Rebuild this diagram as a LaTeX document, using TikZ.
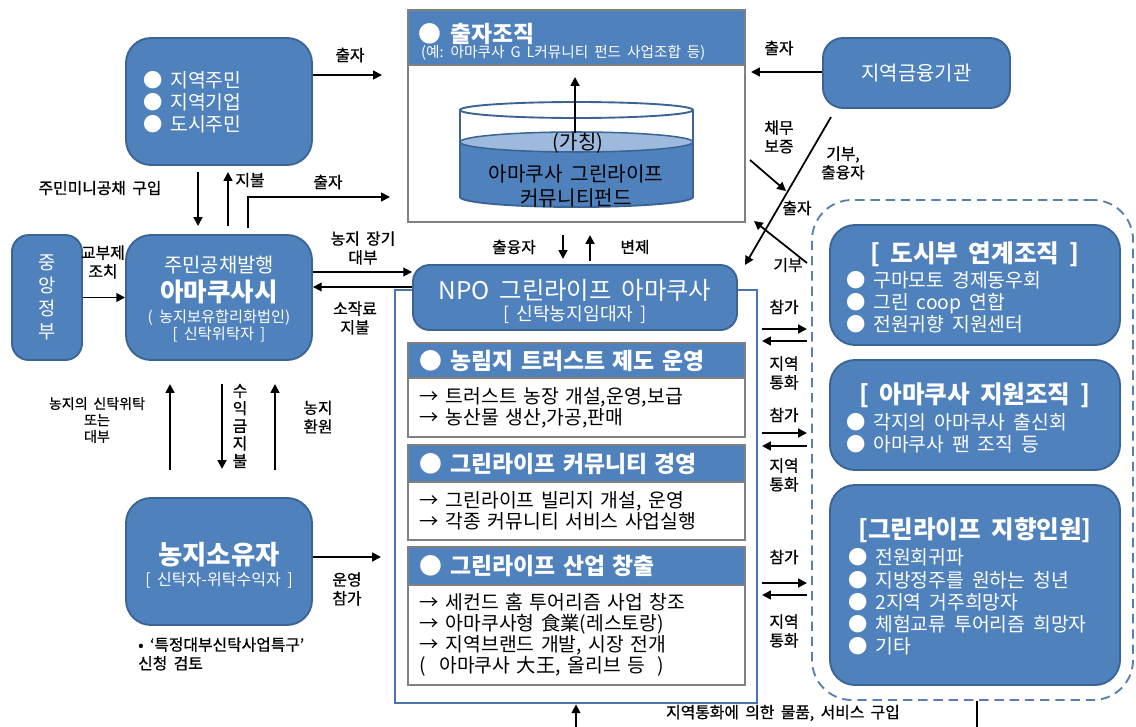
\documentclass[tikz,border=0pt]{standalone}
\usepackage{fontspec}
\setmainfont{Noto Sans CJK KR}[WordSpace=1.8]
\newfontfamily\lblfont{Noto Sans CJK KR}[WordSpace=1.8,FakeBold=0.8]
\usetikzlibrary{arrows.meta}
\definecolor{boxblue}{HTML}{4F81BD}
\definecolor{boxedge}{HTML}{3B6495}
\definecolor{liquid}{HTML}{9DB9DC}
\definecolor{frameblue}{HTML}{4A74AA}
\definecolor{dashblue}{HTML}{5B7FAD}
\begin{document}
\begin{tikzpicture}[x=0.03cm,y=-0.03cm,
    >={Triangle[length=7.5pt,width=7.5pt]},
    flow/.style={->,line width=1.5pt},
    bluebox/.style={draw=boxedge,line width=1.6pt,fill=boxblue,rounded corners=0.75cm,
      text=white,align=center,inner sep=0pt},
    wtxt/.style={text=white,inner sep=0pt},
    lbl/.style={font=\lblfont\fontsize{13.5}{16}\selectfont,align=center,inner sep=0pt},
    boxlist/.style={anchor=west,align=left,text=white,font=\fontsize{16.5}{19}\selectfont,inner sep=0pt},
    boxtitle/.style={text=white,font=\fontsize{21}{24}\selectfont\bfseries,inner sep=0pt},
    sechead/.style={draw=gray,line width=1.3pt,fill=boxblue,text=white,text width=9.39cm,
      inner xsep=0.36cm,inner ysep=0pt,align=left,font=\fontsize{19.5}{22}\selectfont\bfseries},
    secbody/.style={draw=gray,line width=1.3pt,fill=white,text width=9.39cm,
      inner xsep=0.36cm,inner ysep=0pt,align=left,font=\fontsize{16.5}{18}\selectfont}]
  \useasboundingbox (0,0) rectangle (1136,727);

  % left column
  \node[bluebox,minimum width=5.58cm,minimum height=3.81cm] (resid) at (219,101.5) {};
  \node[boxlist] (residtxt) at (143,102) {● 지역주민\\● 지역기업\\● 도시주민};
  \node[bluebox,minimum width=5.58cm,minimum height=3.75cm] (si) at (219,297.5) {};
  \node[wtxt,font=\fontsize{17}{19}\selectfont] (siissue) at (219,265) {주민공채발행};
  \node[wtxt,font=\fontsize{21.8}{26}\selectfont\bfseries] (siname) at (219,292) {아마쿠사시};
  \node[wtxt,font=\fontsize{13}{15}\selectfont] (silegal) at (219,318) {( 농지보유합리화법인)};
  \node[wtxt,font=\fontsize{13}{15}\selectfont] (sirole) at (219,334) {[ 신탁위탁자 ]};
  \node[bluebox,rounded corners=0.5cm,minimum width=2.1cm,minimum height=3.75cm,font=\fontsize{16}{19.5}\selectfont] (gov) at (47,297.5)
    {중\\앙\\정\\부};
  \node[bluebox,minimum width=5.58cm,minimum height=3.81cm] (owner) at (219,561.5) {};
  \node[wtxt,font=\fontsize{22.5}{26}\selectfont\bfseries] (ownername) at (219,555) {농지소유자};
  \node[wtxt,font=\fontsize{13.7}{16}\selectfont] (ownerrole) at (219,580) {[ 신탁자-위탁수익자 ]};
  \node[lbl,anchor=west,align=left] (note) at (138,654) {• ‘특정대부신탁사업특구’\\신청 검토};

  % fund
  \node[draw=gray,line width=1.3pt,fill=white,minimum width=10.11cm,minimum height=6.36cm,inner sep=0pt] (fund) at (576.5,116) {};
  \node[sechead,minimum height=1.65cm] (fundhead) at (576.5,37.5) {};
  \node[wtxt,anchor=west,font=\fontsize{19.5}{22}\selectfont\bfseries] (fundtitle) at (418,34) {● 출자조직};
  \node[wtxt,anchor=west,font=\fontsize{12.5}{14}\selectfont] (fundnote) at (421,52.5) {(예: 아마쿠사 G L커뮤니티 펀드 사업조합 등)};
  \fill[boxblue] (460,142) -- (460,197) arc[start angle=180,end angle=0,x radius=116.5,y radius=10] -- (693,142) -- cycle;
  \draw[boxedge,line width=1.6pt] (460,110) -- (460,197) arc[start angle=180,end angle=0,x radius=116.5,y radius=10] -- (693,110);
  \draw[boxedge,line width=1.3pt,fill=liquid] (576.5,142) ellipse [x radius=116.5,y radius=10];
  \draw[boxedge,line width=1.6pt,fill=white] (576.5,110) ellipse [x radius=116.5,y radius=8];
  \node[font=\fontsize{17}{18}\selectfont,inner sep=0pt] (tempname) at (578,143) {(가칭)};
  \node[font=\fontsize{17.2}{21}\selectfont,align=center,inner sep=0pt] (fundname) at (576,186) {아마쿠사 그린라이프\\커뮤니티펀드};
  \coordinate (raise) at (575,77);
  \draw[flow] (tempname.north -| raise) -- (raise);

  \node[bluebox,rounded corners=0.6cm,minimum width=5.61cm,minimum height=2.1cm,font=\fontsize{17}{19}\selectfont] (bank) at (916.5,73) {지역금융기관};

  % NPO
  \node[draw=frameblue,line width=2.4pt,fill=white,minimum width=10.86cm,minimum height=12.39cm,inner sep=0pt] (npo) at (576,496.5) {};
  \node[bluebox,rounded corners=0.5cm,minimum width=9.72cm,minimum height=1.95cm] (npohead) at (575,297.5) {};
  \node[wtxt,font=\fontsize{20.8}{24}\selectfont] (nponame) at (575,290) {NPO 그린라이프 아마쿠사};
  \node[wtxt,font=\fontsize{15.5}{17}\selectfont] (nporole) at (575,315) {[ 신탁농지임대자 ]};
  \node[sechead,minimum height=1.05cm] (s1head) at (576.5,360.5) {● 농림지 트러스트 제도 운영};
  \node[secbody,minimum height=1.77cm] (s1body) at (576.5,407.5) {→ 트러스트 농장 개설,운영,보급\\→ 농산물 생산,가공,판매};
  \node[sechead,minimum height=1.11cm] (s2head) at (576.5,463.5) {● 그린라이프 커뮤니티 경영};
  \node[secbody,minimum height=1.74cm] (s2body) at (576.5,511) {→ 그린라이프 빌리지 개설, 운영\\→ 각종 커뮤니티 서비스 사업실행};
  \node[sechead,minimum height=1.14cm] (s3head) at (576.5,566) {● 그린라이프 산업 창출};
  \node[secbody,minimum height=3cm] (s3body) at (576.5,635)
    {→ 세컨드 홈 투어리즘 사업 창조\\→ 아마쿠사형 食業(레스토랑)\\→ 지역브랜드 개발, 시장 전개\\(~ 아마쿠사 大王, 올리브 등 ~)};

  % right column
  \node[draw=dashblue,dash pattern=on 8pt off 5pt,line width=1.6pt,rounded corners=1.2cm,
    minimum width=9.63cm,minimum height=15cm,inner sep=0pt] (cityzone) at (972.5,450) {};
  \node[bluebox,minimum width=8.7cm,minimum height=3.6cm] (urban) at (975,285) {};
  \node[boxtitle] (urbantitle) at (975,254) {[ 도시부 연계조직 ]};
  \node[boxlist] (urbanlist) at (846,302) {● 구마모토 경제동우회\\● 그린 coop 연합\\● 전원귀향 지원센터};
  \node[bluebox,minimum width=8.7cm,minimum height=3.3cm] (support) at (975,415) {};
  \node[boxtitle] (supporttitle) at (975,395) {[ 아마쿠사 지원조직 ]};
  \node[boxlist] (supportlist) at (846,433) {● 각지의 아마쿠사 출신회\\● 아마쿠사 팬 조직 등};
  \node[bluebox,minimum width=8.7cm,minimum height=6cm] (seeker) at (975,585) {};
  \node[boxtitle] (seekertitle) at (975,530) {[그린라이프 지향인원]};
  \node[boxlist] (seekerlist) at (848,602) {● 전원회귀파\\● 지방정주를 원하는 청년\\● 2지역 거주희망자\\● 체험교류 투어리즘 희망자\\● 기타};

  % connectors, top
  \coordinate (investY) at (0,75);
  \coordinate (residInvest) at (382,75);
  \draw[flow] (resid.east |- investY) -- (residInvest);
  \node[lbl] (lInvestA) at (350,55) {출자};
  \coordinate (bankInvest) at (751,72);
  \draw[flow] (bank.west |- bankInvest) -- (bankInvest);
  \node[lbl] (lInvestB) at (779,48) {출자};
  \coordinate (bankFoot) at (831,117);
  \coordinate (npoDonate) at (745,265);
  \draw[flow] (bankFoot) -- (npoDonate);
  \node[lbl] (lDonate) at (843,163) {기부,\\출융자};
  \coordinate (guarStart) at (750,160);
  \coordinate (guarEnd) at (786,191);
  \draw[flow] (guarStart) -- (guarEnd);
  \node[lbl] (lGuar) at (779,137) {채무\\보증};
  \coordinate (cityStart) at (807,263);
  \coordinate (cityEnd) at (754,221);
  \draw[flow] (cityStart) -- (cityEnd);
  \node[lbl] (lInvestC) at (797,208) {출자};
  \node[lbl] (lGift) at (788,265) {기부};

  % resid and city
  \coordinate (bondTop) at (198,172);
  \coordinate (bondBot) at (198,226);
  \draw[flow] (bondTop) -- (bondBot);
  \node[lbl] (lBond) at (100,188) {주민미니공채 구입};
  \coordinate (payBot) at (228,226);
  \coordinate (payTop) at (228,172);
  \draw[flow] (payBot) -- (payTop);
  \node[lbl] (lPay) at (250,180) {지불};
  \coordinate (cityFoot) at (248,228);
  \coordinate (cityInvest) at (390,197);
  \draw[flow] (cityFoot) |- (cityInvest);
  \node[lbl] (lInvestD) at (328,182) {출자};
  \draw[flow] (gov.east) -- (si.west);
  \node[lbl] (lGrant) at (103,262) {교부제\\조치};
  \coordinate (leaseY) at (0,272);
  \coordinate (rentY) at (0,287);
  \draw[flow] (si.east |- leaseY) -- (npohead.west |- leaseY);
  \draw[flow] (npohead.west |- rentY) -- (si.east |- rentY);
  \node[lbl] (lLease) at (363,248) {농지 장기\\대부};
  \node[lbl] (lRent) at (355,318) {소작료\\지불};

  % si and owner
  \coordinate (trustBot) at (170,470);
  \coordinate (trustTop) at (170,384);
  \draw[flow] (trustBot) -- (trustTop);
  \node[lbl,font=\lblfont\fontsize{12}{14}\selectfont] (lTrust) at (97,420) {농지의 신탁위탁\\또는\\대부};
  \coordinate (gainTop) at (222,384);
  \coordinate (gainBot) at (222,469);
  \draw[flow] (gainTop) -- (gainBot);
  \node[lbl,font=\lblfont\fontsize{13.5}{15}\selectfont] (lGain) at (240,426) {수\\익\\금\\지\\불};
  \coordinate (backBot) at (275,470);
  \coordinate (backTop) at (275,384);
  \draw[flow] (backBot) -- (backTop);
  \node[lbl] (lBack) at (318,417) {농지\\환원};
  \coordinate (ownerY) at (0,557);
  \coordinate (ownerJoin) at (381,557);
  \draw[flow] (owner.east |- ownerY) -- (ownerJoin);
  \node[lbl] (lJoin) at (347,589) {운영\\참가};

  % NPO top and bottom
  \coordinate (loanTop) at (563,235);
  \coordinate (loanBot) at (563,259);
  \draw[flow] (loanTop) -- (loanBot);
  \coordinate (repayBot) at (590,261);
  \coordinate (repayTop) at (590,235);
  \draw[flow] (repayBot) -- (repayTop);
  \node[lbl] (lLoan) at (514,247) {출융자};
  \node[lbl] (lRepay) at (635,247) {변제};
  \coordinate (shopBase) at (576,727);
  \draw[flow] (shopBase) -- (npo.south);
  \coordinate (zoneBase) at (977,727);
  \draw[line width=1.5pt] (cityzone.south -| zoneBase) -- (zoneBase);
  \node[lbl] (lShop) at (783,713) {지역통화에 의한 물품, 서비스 구입};

  % NPO and right column
  \foreach \ya/\yb/\yj/\yc [count=\i] in {329/341/307/373, 433/446/415/475, 583/595/557/631}{
    \coordinate (joinL\i) at (762,\ya);
    \coordinate (joinR\i) at (807,\ya);
    \coordinate (coinR\i) at (807,\yb);
    \coordinate (coinL\i) at (762,\yb);
    \draw[flow] (joinL\i) -- (joinR\i);
    \draw[flow] (coinR\i) -- (coinL\i);
    \node[lbl] (lJoin\i) at (784,\yj) {참가};
    \node[lbl] (lCoin\i) at (784,\yc) {지역\\통화};
  }
\end{tikzpicture}
\end{document}
